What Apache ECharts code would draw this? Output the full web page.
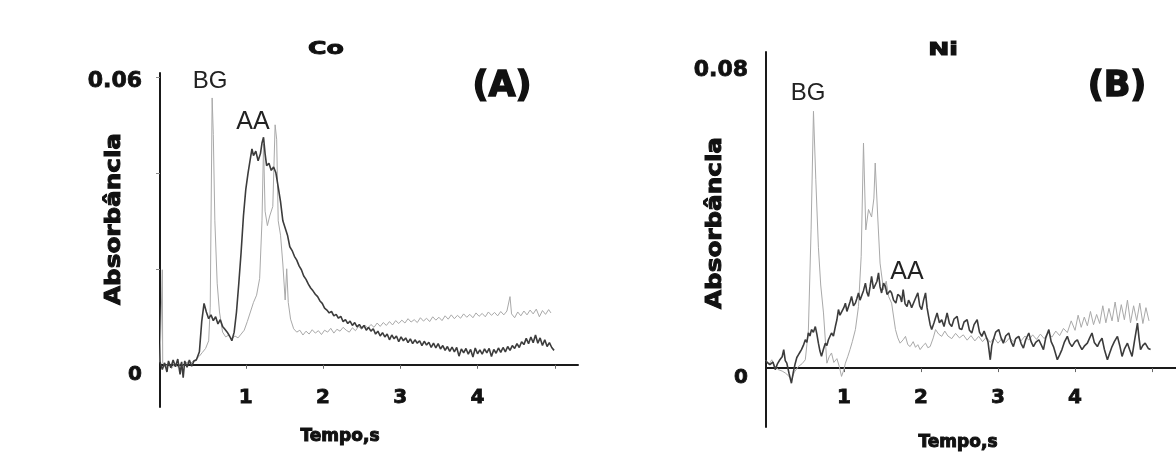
<!DOCTYPE html>
<html>
<head>
<meta charset="utf-8">
<script src="https://cdn.jsdelivr.net/npm/echarts@6.0.0/dist/echarts.min.js"></script>
<style>
html,body{margin:0;padding:0;background:#fff;}
#chart{width:1176px;height:459px;}
</style>
</head>
<body>
<div id="chart"></div>
<script>
// ---------- DATA (time in s, absorbance) ----------
var xTickLabels = [1, 2, 3, 4];
var xTicks = [1, 2, 3, 4, 5];
var coYLabels = [0, 0.06];
var niYLabels = [0, 0.08];

// Panel A (Co) - background signal (light)
var coBG = [
[-0.11,0.0005],[-0.09,0.0002],[-0.08,0.0198],[-0.075,0.0004],[-0.04,-0.0006],[0.0,0.0005],[0.04,-0.0008],[0.08,0.0003],
[0.12,-0.0005],[0.16,0.0004],[0.2,-0.0003],[0.24,0.0006],[0.28,0.0002],[0.32,0.0008],[0.36,0.0012],[0.4,0.0018],
[0.44,0.0026],[0.48,0.0034],[0.52,0.0050],[0.54,0.0120],[0.565,0.0556],[0.58,0.0480],[0.60,0.0300],[0.63,0.0170],
[0.66,0.0110],[0.70,0.0068],[0.74,0.0058],[0.78,0.0062],[0.82,0.0054],[0.86,0.0060],[0.90,0.0056],[0.94,0.0064],
[0.98,0.0072],[1.02,0.0090],[1.06,0.0110],[1.10,0.0130],[1.14,0.0145],[1.18,0.0180],[1.21,0.0300],[1.23,0.0460],
[1.25,0.0320],[1.28,0.0290],[1.31,0.0310],[1.35,0.0330],[1.38,0.0500],[1.40,0.0470],[1.42,0.0300],[1.45,0.0270],
[1.48,0.0210],[1.51,0.0135],[1.53,0.0200],[1.55,0.0130],[1.58,0.0095],[1.62,0.0075],[1.66,0.0068],[1.70,0.0072],
[1.74,0.0062],[1.78,0.0070],[1.82,0.0064],[1.86,0.0073],[1.90,0.0066],[1.94,0.0071],[1.98,0.0063],[2.02,0.0072],
[2.06,0.0068],[2.10,0.0076],[2.14,0.0066],[2.18,0.0074],[2.22,0.0070],[2.26,0.0078],[2.30,0.0072],[2.34,0.0068],
[2.38,0.0077],[2.42,0.0071],[2.46,0.0080],[2.50,0.0074],[2.54,0.0083],[2.58,0.0076],[2.62,0.0084],[2.66,0.0078],
[2.70,0.0087],[2.74,0.0080],[2.78,0.0088],[2.82,0.0082],[2.86,0.0090],[2.90,0.0083],[2.94,0.0092],[2.98,0.0086],
[3.02,0.0093],[3.06,0.0087],[3.10,0.0096],[3.14,0.0089],[3.18,0.0094],[3.22,0.0088],[3.26,0.0098],[3.30,0.0091],
[3.34,0.0097],[3.38,0.0090],[3.42,0.0100],[3.46,0.0093],[3.50,0.0099],[3.54,0.0092],[3.58,0.0102],[3.62,0.0095],
[3.66,0.0104],[3.70,0.0096],[3.74,0.0103],[3.78,0.0097],[3.82,0.0106],[3.86,0.0099],[3.90,0.0105],[3.94,0.0098],
[3.98,0.0108],[4.02,0.0101],[4.06,0.0107],[4.10,0.0100],[4.14,0.0110],[4.18,0.0103],[4.22,0.0109],[4.26,0.0102],
[4.30,0.0111],[4.34,0.0104],[4.38,0.0112],[4.42,0.0142],[4.44,0.0106],[4.48,0.0098],[4.52,0.0110],[4.56,0.0102],
[4.60,0.0112],[4.64,0.0104],[4.68,0.0114],[4.72,0.0106],[4.76,0.0116],[4.80,0.0100],[4.84,0.0113],[4.88,0.0105],
[4.92,0.0115],[4.95,0.0108]
];

// Panel A (Co) - atomic absorption signal (dark)
var coAA = [
[-0.11,0.0006],[-0.08,-0.0010],[-0.05,0.0004],[-0.02,-0.0015],[0.0,0.0008],[0.03,-0.0006],[0.06,0.0010],[0.09,-0.0004],
[0.12,0.0012],[0.15,-0.0020],[0.17,0.0006],[0.19,-0.0027],[0.21,0.0008],[0.24,-0.0005],[0.27,0.0010],[0.30,-0.0003],
[0.33,0.0008],[0.36,0.0010],[0.40,0.0027],[0.43,0.0090],[0.46,0.0128],[0.49,0.0110],[0.52,0.0096],[0.55,0.0104],
[0.58,0.0092],[0.61,0.0100],[0.64,0.0085],[0.67,0.0094],[0.70,0.0080],[0.73,0.0074],[0.76,0.0068],[0.79,0.0060],
[0.82,0.0050],[0.85,0.0068],[0.88,0.0110],[0.91,0.0170],[0.94,0.0235],[0.97,0.0310],[1.00,0.0365],[1.03,0.0400],
[1.06,0.0430],[1.08,0.0450],[1.10,0.0436],[1.13,0.0445],[1.16,0.0425],[1.19,0.0440],[1.21,0.0462],[1.23,0.0474],
[1.25,0.0440],[1.27,0.0415],[1.30,0.0420],[1.33,0.0405],[1.36,0.0412],[1.39,0.0400],[1.42,0.0370],[1.45,0.0340],
[1.48,0.0300],[1.51,0.0285],[1.54,0.0270],[1.57,0.0246],[1.60,0.0238],[1.63,0.0226],[1.66,0.0218],[1.69,0.0206],
[1.72,0.0198],[1.75,0.0185],[1.78,0.0178],[1.81,0.0168],[1.84,0.0160],[1.87,0.0154],[1.90,0.0147],[1.93,0.0142],
[1.96,0.0133],[1.99,0.0128],[2.02,0.0118],[2.05,0.0114],[2.08,0.0108],[2.11,0.0111],[2.14,0.0102],[2.17,0.0105],
[2.20,0.0097],[2.23,0.0101],[2.26,0.0090],[2.29,0.0094],[2.32,0.0086],[2.35,0.0091],[2.38,0.0082],[2.41,0.0088],
[2.44,0.0079],[2.47,0.0084],[2.50,0.0076],[2.53,0.0082],[2.56,0.0072],[2.59,0.0078],[2.62,0.0070],[2.65,0.0075],
[2.68,0.0064],[2.71,0.0070],[2.74,0.0060],[2.77,0.0067],[2.80,0.0058],[2.83,0.0064],[2.86,0.0052],[2.89,0.0062],
[2.92,0.0054],[2.95,0.0060],[2.98,0.0048],[3.01,0.0058],[3.04,0.0050],[3.07,0.0056],[3.10,0.0046],[3.13,0.0054],
[3.16,0.0044],[3.19,0.0052],[3.22,0.0045],[3.25,0.0050],[3.28,0.0040],[3.31,0.0049],[3.34,0.0041],[3.37,0.0047],
[3.40,0.0036],[3.43,0.0045],[3.46,0.0035],[3.49,0.0044],[3.52,0.0033],[3.55,0.0040],[3.58,0.0030],[3.61,0.0038],
[3.64,0.0028],[3.67,0.0037],[3.70,0.0027],[3.73,0.0036],[3.76,0.0018],[3.79,0.0033],[3.82,0.0025],[3.85,0.0034],
[3.88,0.0022],[3.91,0.0032],[3.94,0.0016],[3.97,0.0035],[4.00,0.0023],[4.03,0.0031],[4.06,0.0022],[4.09,0.0033],
[4.12,0.0025],[4.15,0.0034],[4.18,0.0017],[4.21,0.0032],[4.24,0.0024],[4.27,0.0035],[4.30,0.0026],[4.33,0.0036],
[4.36,0.0027],[4.39,0.0038],[4.42,0.0030],[4.45,0.0040],[4.48,0.0034],[4.51,0.0044],[4.54,0.0036],[4.57,0.0048],
[4.60,0.0042],[4.63,0.0055],[4.66,0.0044],[4.69,0.0058],[4.72,0.0046],[4.75,0.0062],[4.78,0.0045],[4.81,0.0056],
[4.84,0.0040],[4.87,0.0052],[4.90,0.0038],[4.93,0.0046],[4.96,0.0036],[4.99,0.0030]
];

// Panel B (Ni) - background signal (light)
var niBG = [
[-0.01,0.0020],[0.03,0.0010],[0.065,0.0022],[0.10,0.0006],[0.15,-0.0004],[0.20,-0.0008],[0.24,-0.0013],[0.28,-0.0020],
[0.32,-0.0031],[0.36,-0.0010],[0.41,0.0004],[0.46,0.0012],[0.50,0.0022],[0.54,0.0100],[0.575,0.0366],[0.606,0.0680],
[0.636,0.0500],[0.67,0.0320],[0.70,0.0220],[0.736,0.0146],[0.78,0.0013],[0.81,0.0030],[0.84,0.0040],[0.87,0.0015],
[0.91,0.0025],[0.94,0.0005],[0.97,-0.0022],[1.0,-0.0005],[1.02,0.0013],[1.05,0.0030],[1.08,0.0049],[1.11,0.0070],
[1.15,0.0102],[1.19,0.0163],[1.225,0.0296],[1.255,0.0596],[1.285,0.0366],[1.32,0.0420],[1.36,0.0400],[1.39,0.0450],
[1.407,0.0543],[1.44,0.0400],[1.47,0.0278],[1.515,0.0207],[1.55,0.0230],[1.58,0.0190],[1.62,0.0172],[1.67,0.0102],
[1.70,0.0080],[1.73,0.0066],[1.77,0.0075],[1.80,0.0084],[1.83,0.0062],[1.86,0.0057],[1.90,0.0070],[1.93,0.0055],
[1.96,0.0062],[1.99,0.0049],[2.03,0.0060],[2.06,0.0066],[2.09,0.0054],[2.12,0.0057],[2.16,0.0080],[2.19,0.0102],
[2.23,0.0090],[2.27,0.0084],[2.31,0.0098],[2.35,0.0085],[2.40,0.0078],[2.45,0.0092],[2.50,0.0080],[2.55,0.0088],
[2.60,0.0074],[2.65,0.0086],[2.70,0.0072],[2.75,0.0084],[2.80,0.0070],[2.85,0.0082],[2.90,0.0068],[2.95,0.0080],
[3.00,0.0066],[3.05,0.0078],[3.10,0.0068],[3.15,0.0080],[3.20,0.0070],[3.25,0.0083],[3.30,0.0072],[3.35,0.0085],
[3.40,0.0074],[3.45,0.0088],[3.50,0.0076],[3.55,0.0090],[3.60,0.0078],[3.65,0.0094],[3.70,0.0082],[3.75,0.0098],
[3.80,0.0086],[3.85,0.0105],[3.90,0.0094],[3.95,0.0125],[4.00,0.0100],[4.04,0.0140],[4.08,0.0108],[4.12,0.0135],
[4.16,0.0112],[4.20,0.0150],[4.24,0.0115],[4.28,0.0142],[4.32,0.0118],[4.36,0.0165],[4.40,0.0120],[4.44,0.0158],
[4.48,0.0125],[4.52,0.0175],[4.56,0.0122],[4.60,0.0168],[4.64,0.0128],[4.68,0.0180],[4.72,0.0120],[4.76,0.0165],
[4.80,0.0126],[4.84,0.0172],[4.88,0.0118],[4.92,0.0160],[4.96,0.0125]
];

// Panel B (Ni) - atomic absorption signal (dark)
var niAA = [
[-0.01,0.0018],[0.0,0.0022],[0.04,0.0009],[0.08,0.0016],[0.11,-0.0004],[0.14,0.0012],[0.17,0.0022],[0.20,0.0030],
[0.22,0.0049],[0.24,0.0020],[0.26,0.0013],[0.29,-0.0015],[0.32,-0.0040],[0.345,-0.0010],[0.37,0.0013],[0.39,0.0028],
[0.41,0.0035],[0.43,0.0042],[0.45,0.0049],[0.475,0.0060],[0.50,0.0075],[0.52,0.0068],[0.54,0.0093],[0.56,0.0085],
[0.58,0.0102],[0.605,0.0095],[0.63,0.0110],[0.65,0.0090],[0.67,0.0066],[0.69,0.0045],[0.71,0.0031],[0.735,0.0050],
[0.76,0.0066],[0.78,0.0060],[0.80,0.0075],[0.82,0.0070],[0.84,0.0093],[0.865,0.0085],[0.89,0.0110],[0.91,0.0128],
[0.93,0.0155],[0.95,0.0140],[0.97,0.0137],[1.00,0.0160],[1.02,0.0172],[1.04,0.0150],[1.06,0.0155],[1.08,0.0175],
[1.10,0.0190],[1.125,0.0165],[1.15,0.0172],[1.17,0.0185],[1.19,0.0199],[1.21,0.0180],[1.23,0.0181],[1.255,0.0205],
[1.28,0.0225],[1.30,0.0200],[1.32,0.0190],[1.34,0.0215],[1.36,0.0243],[1.385,0.0210],[1.41,0.0208],[1.43,0.0230],
[1.45,0.0252],[1.47,0.0215],[1.49,0.0199],[1.515,0.0225],[1.54,0.0216],[1.56,0.0195],[1.58,0.0190],[1.60,0.0205],
[1.62,0.0199],[1.645,0.0180],[1.675,0.0172],[1.70,0.0195],[1.73,0.0190],[1.75,0.0175],[1.77,0.0208],[1.795,0.0170],
[1.82,0.0163],[1.84,0.0180],[1.86,0.0172],[1.88,0.0160],[1.90,0.0155],[1.93,0.0185],[1.96,0.0199],[1.985,0.0165],
[2.01,0.0155],[2.035,0.0180],[2.06,0.0199],[2.08,0.0160],[2.10,0.0137],[2.12,0.0115],[2.14,0.0102],[2.17,0.0120],
[2.21,0.0146],[2.24,0.0120],[2.27,0.0128],[2.30,0.0110],[2.34,0.0146],[2.37,0.0118],[2.40,0.0110],[2.43,0.0130],
[2.47,0.0137],[2.50,0.0105],[2.53,0.0102],[2.56,0.0122],[2.60,0.0128],[2.63,0.0100],[2.66,0.0093],[2.69,0.0115],
[2.73,0.0128],[2.76,0.0095],[2.79,0.0084],[2.82,0.0098],[2.84,0.0102],[2.87,0.0070],[2.90,0.0022],[2.92,0.0060],
[2.94,0.0075],[2.97,0.0095],[3.01,0.0102],[3.04,0.0080],[3.07,0.0066],[3.10,0.0085],[3.14,0.0093],[3.17,0.0070],
[3.20,0.0057],[3.23,0.0078],[3.27,0.0084],[3.30,0.0065],[3.33,0.0053],[3.36,0.0075],[3.40,0.0093],[3.43,0.0070],
[3.46,0.0057],[3.49,0.0068],[3.53,0.0075],[3.56,0.0062],[3.59,0.0049],[3.62,0.0080],[3.66,0.0102],[3.69,0.0070],
[3.72,0.0057],[3.745,0.0040],[3.77,0.0022],[3.80,0.0035],[3.83,0.0049],[3.86,0.0068],[3.90,0.0084],[3.93,0.0066],
[3.96,0.0057],[4.00,0.0070],[4.03,0.0075],[4.06,0.0060],[4.09,0.0049],[4.12,0.0058],[4.16,0.0066],[4.19,0.0080],
[4.22,0.0093],[4.25,0.0068],[4.29,0.0057],[4.32,0.0070],[4.35,0.0079],[4.38,0.0050],[4.42,0.0022],[4.45,0.0040],
[4.48,0.0057],[4.51,0.0070],[4.55,0.0084],[4.58,0.0060],[4.61,0.0031],[4.64,0.0050],[4.68,0.0066],[4.71,0.0048],
[4.74,0.0031],[4.77,0.0070],[4.81,0.0119],[4.83,0.0080],[4.85,0.0049],[4.88,0.0060],[4.91,0.0066],[4.95,0.0052],
[4.98,0.0049]
];

// ---------- CHART ----------
var FONT = '"DejaVu Sans", sans-serif';
var AXIS_COLOR = '#1a1a1a';
var BG_COLOR = '#a9a9a9';
var AA_COLOR = '#3c3c3c';

// grid geometry (pixels) and y ranges
var gA = { left: 160, top: 73, width: 418, height: 334, ymin: -0.0088, ymax: 0.0608 };
var gB = { left: 766, top: 52, width: 410, height: 375, ymin: -0.0156, ymax: 0.0837 };
// distance from grid bottom up to the y = 0 line
function zeroOffset(g) { return g.height * (0 - g.ymin) / (g.ymax - g.ymin); }

function xAxisCfg(gridIndex, min, max, g, margin) {
  return {
    type: 'value', gridIndex: gridIndex, min: min, max: max, position: 'bottom',
    offset: -zeroOffset(g),
    axisLine: { show: true, onZero: false, lineStyle: { color: AXIS_COLOR, width: 2 } },
    axisTick: { show: true, customValues: xTicks, length: 4, inside: false, lineStyle: { color: '#666', width: 1 } },
    axisLabel: { show: true, customValues: xTickLabels, margin: margin, color: '#111',
      fontFamily: FONT, fontWeight: 'bold', fontSize: 20, textBorderColor: '#111', textBorderWidth: 0.8 },
    splitLine: { show: false }
  };
}
function yAxisCfg(gridIndex, g, labels, ticks) {
  return {
    type: 'value', gridIndex: gridIndex, min: g.ymin, max: g.ymax,
    axisLine: { show: true, onZero: false, lineStyle: { color: AXIS_COLOR, width: 2 } },
    axisTick: { show: ticks.length > 0, customValues: ticks, length: 4, lineStyle: { color: '#888', width: 1 } },
    axisLabel: {
      show: true, customValues: labels, margin: 18, color: '#111',
      formatter: function (v) { return v === 0 ? '{z|0}' : '{n|' + v.toFixed(2) + '}'; },
      rich: {
        z: { fontFamily: FONT, fontWeight: 'bold', fontSize: 20, color: '#111', padding: [20, 0, 0, 0],
             textBorderColor: '#111', textBorderWidth: 0.8 },
        n: { fontFamily: FONT, fontWeight: 'bold', fontSize: 22, color: '#111', padding: [8, 0, 0, 0],
             textBorderColor: '#111', textBorderWidth: 0.8 }
      }
    },
    splitLine: { show: false }
  };
}
function txt(x, y, text, font, opts) {
  opts = opts || {};
  var style = { text: text, font: font, fill: opts.fill || '#111',
    align: 'center', verticalAlign: 'middle', textAlign: 'center', textVerticalAlign: 'middle' };
  if (opts.heavy) { style.stroke = '#111'; style.lineWidth = opts.heavy; }
  return {
    type: 'text', x: x, y: y, rotation: opts.rotation || 0,
    scaleX: opts.scaleX || 1, scaleY: opts.scaleY || 1, silent: true, z: 100,
    style: style
  };
}
function lineSeries(name, data, xi, color, width) {
  return {
    name: name, type: 'line', xAxisIndex: xi, yAxisIndex: xi, data: data,
    showSymbol: false, symbol: 'none', smooth: false, silent: true,
    lineStyle: { color: color, width: width }, z: 2
  };
}

var chart = echarts.init(document.getElementById('chart'), null, { renderer: 'canvas' });
chart.setOption({
  backgroundColor: '#ffffff',
  animation: false,
  grid: [
    { left: gA.left, top: gA.top, width: gA.width, height: gA.height, containLabel: false, outerBoundsMode: 'none' },
    { left: gB.left, top: gB.top, width: gB.width, height: gB.height, containLabel: false, outerBoundsMode: 'none' }
  ],
  xAxis: [ xAxisCfg(0, -0.11, 5.3, gA, 23), xAxisCfg(1, -0.01, 5.31, gB, 20) ],
  yAxis: [ yAxisCfg(0, gA, coYLabels, [0.02, 0.04, 0.06]),
           yAxisCfg(1, gB, niYLabels, []) ],
  series: [
    lineSeries('BG', coBG, 0, BG_COLOR, 1),
    lineSeries('AA', coAA, 0, AA_COLOR, 1.6),
    lineSeries('BG', niBG, 1, BG_COLOR, 1),
    lineSeries('AA', niAA, 1, AA_COLOR, 1.6)
  ],
  graphic: [
    txt(326, 49, 'Co', 'bold 18px ' + FONT, { scaleX: 1.4, heavy: 1 }),
    txt(502, 87, '(A)', 'bold 35px ' + FONT, { heavy: 1.5 }),
    txt(210, 81, 'BG', '24px "Liberation Sans", Arial, sans-serif', { fill: '#222' }),
    txt(253, 122, 'AA', '25px "Liberation Sans", Arial, sans-serif', { fill: '#222' }),
    txt(114, 219, 'Absorbância', 'bold 22px ' + FONT, { rotation: Math.PI / 2, scaleX: 1.12, heavy: 1 }),
    txt(340, 437, 'Tempo,s', 'bold 17px ' + FONT, { heavy: 1 }),
    txt(943, 50, 'Ni', 'bold 18px ' + FONT, { scaleX: 1.4, heavy: 1 }),
    txt(1117, 87, '(B)', 'bold 35px ' + FONT, { heavy: 1.5 }),
    txt(808, 93, 'BG', '24px "Liberation Sans", Arial, sans-serif', { fill: '#222' }),
    txt(907, 272, 'AA', '25px "Liberation Sans", Arial, sans-serif', { fill: '#222' }),
    txt(715, 223, 'Absorbância', 'bold 22px ' + FONT, { rotation: Math.PI / 2, scaleX: 1.12, heavy: 1 }),
    txt(958, 443, 'Tempo,s', 'bold 17px ' + FONT, { heavy: 1 })
  ]
});
</script>
</body>
</html>
